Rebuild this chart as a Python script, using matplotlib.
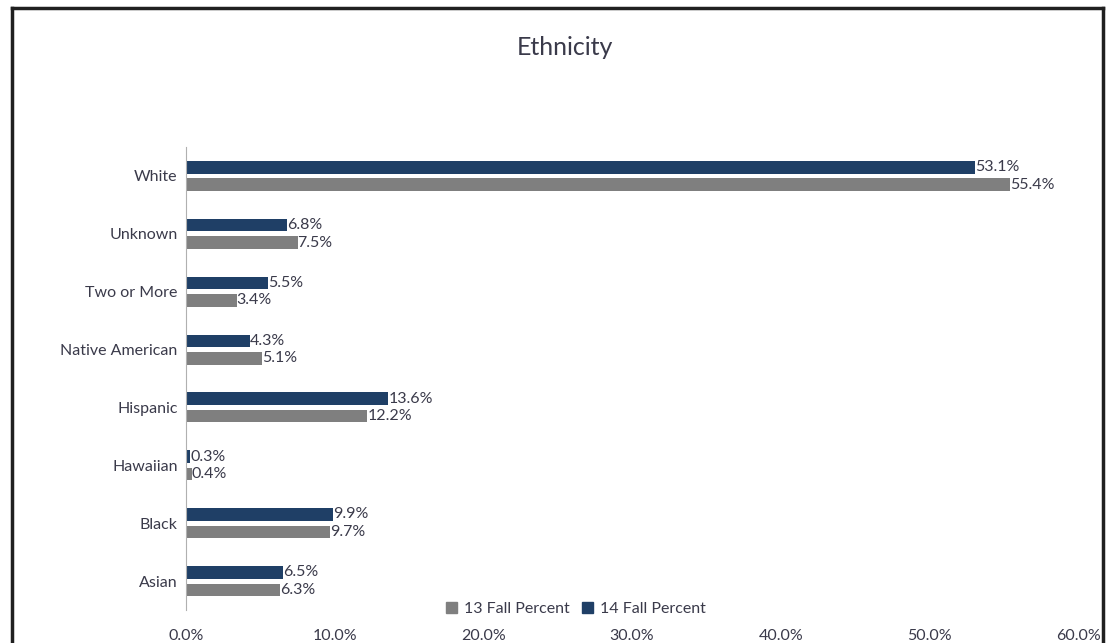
import matplotlib
matplotlib.use("Agg")
import matplotlib.pyplot as plt
import numpy as np
from matplotlib.lines import Line2D
from matplotlib.patches import Patch

plt.rcParams['font.family'] = ['Lato', 'DejaVu Sans']

# data
categories = ["Asian", "Black", "Hawaiian", "Hispanic", "Native American",
              "Two or More", "Unknown", "White"]
fall13 = [6.3, 9.7, 0.4, 12.2, 5.1, 3.4, 7.5, 55.4]
fall14 = [6.5, 9.9, 0.3, 13.6, 4.3, 5.5, 6.8, 53.1]
xticks = [0, 10, 20, 30, 40, 50, 60]

navy = "#1f3f66"
gray = "#7f7f7f"
txt = "#3a3a4a"

fig = plt.figure(figsize=(11.14, 6.43), dpi=100)
ax = fig.add_axes([0.167, 0.0513, 0.8007, 0.720])

y = np.arange(len(categories))
h = 0.216
off = 0.151
ax.barh(y + off, fall14, height=h, color=navy)
ax.barh(y - off, fall13, height=h, color=gray)

for yi, v in zip(y, fall14):
    ax.text(v, yi + off, f"{v:.1f}%", va="center", ha="left", fontsize=11.5, color=txt)
for yi, v in zip(y, fall13):
    ax.text(v, yi - off, f"{v:.1f}%", va="center", ha="left", fontsize=11.5, color=txt)

ax.set_xlim(0, 60)
ax.set_ylim(-0.5, len(categories) - 0.5)
ax.set_yticks(y)
ax.set_yticklabels(categories, fontsize=11.5, color=txt)
ax.set_xticks(xticks)
ax.set_xticklabels([f"{t:.1f}%" for t in xticks], fontsize=11.5, color=txt)
ax.tick_params(axis="both", length=0)
ax.tick_params(axis="x", pad=14)
ax.tick_params(axis="y", pad=6)
for s in ["top", "right", "bottom"]:
    ax.spines[s].set_visible(False)
ax.spines["left"].set_color("#b0b0b0")

fig.text(0.507, 0.926, "Ethnicity", ha="center", va="center", fontsize=18, color=txt)

handles = [Patch(color=gray, label="13 Fall Percent"), Patch(color=navy, label="14 Fall Percent")]
fig.legend(handles=handles, loc="center", bbox_to_anchor=(0.517, 0.053), ncol=2,
           frameon=False, fontsize=11.5, handlelength=0.7, handleheight=0.7,
           handletextpad=0.4, columnspacing=0.8, labelcolor=txt)

# outer frame (bottom cut off)
fig.add_artist(Line2D([0.011, 0.011], [0.0, 0.988], color="#202020", lw=2.5))
fig.add_artist(Line2D([0.011, 0.990], [0.988, 0.988], color="#202020", lw=2.5))
fig.add_artist(Line2D([0.990, 0.990], [0.0, 0.988], color="#202020", lw=2.5))

fig.savefig("out.png", dpi=100)
